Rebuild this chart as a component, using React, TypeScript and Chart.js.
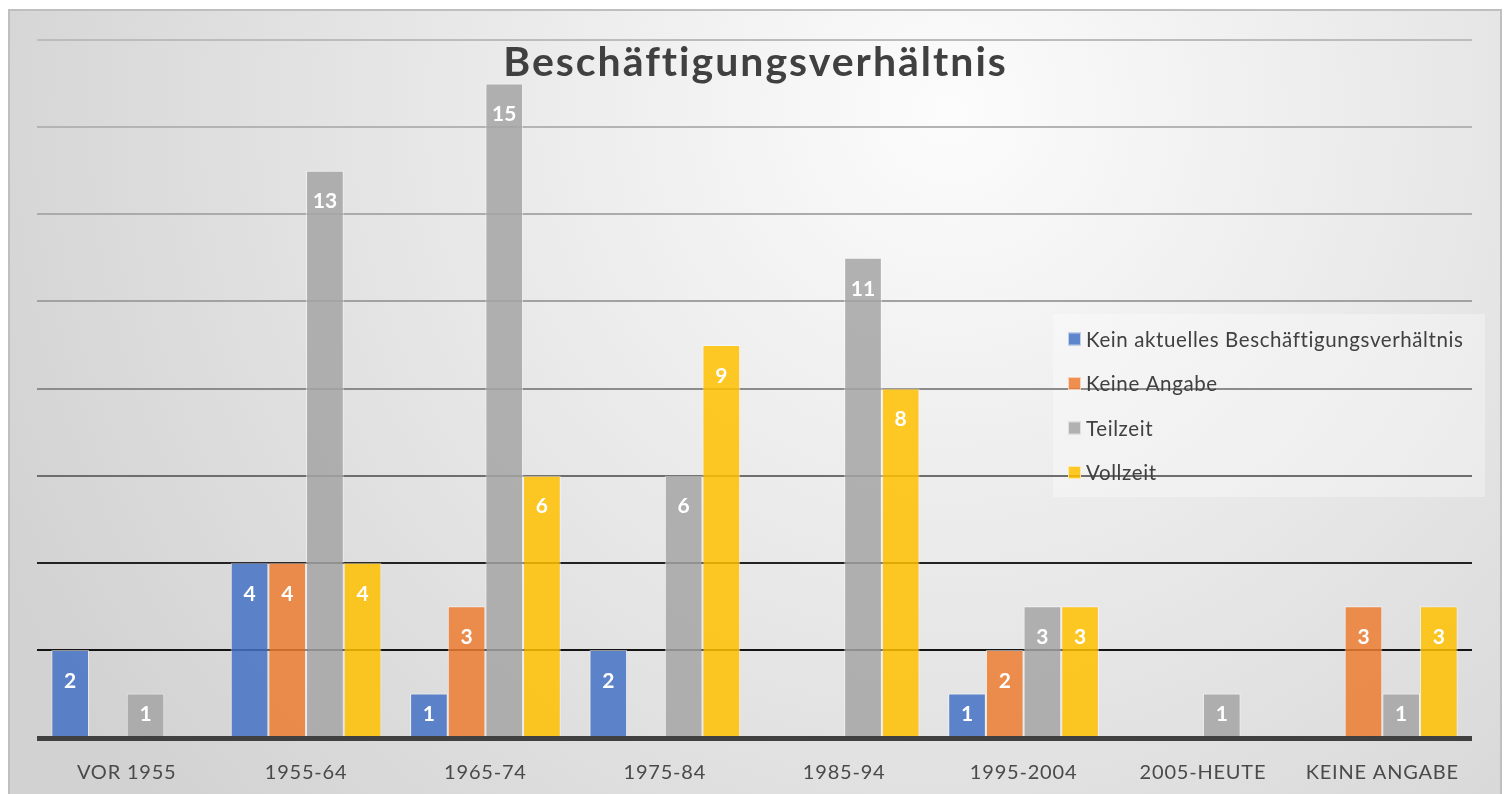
import { useEffect, useRef } from "react";
import { Chart, registerables } from "chart.js";

Chart.register(...registerables);

const categories = ["VOR 1955", "1955-64", "1965-74", "1975-84", "1985-94", "1995-2004", "2005-HEUTE", "KEINE ANGABE"];
const seriesNames = ["Kein aktuelles Beschäftigungsverhältnis", "Keine Angabe", "Teilzeit", "Vollzeit"];
const keinAktuelles = [2, 4, 1, 2, 0, 1, 0, 0];
const keineAngabe = [0, 4, 3, 0, 0, 2, 0, 3];
const teilzeit = [1, 13, 15, 6, 11, 3, 1, 1];
const vollzeit = [0, 4, 6, 9, 8, 3, 0, 3];
const seriesColors = ["#4472C4", "#ED7D31", "#A5A5A5", "#FFC000"];
const yMax = 16;
const yStep = 2;
const gridColorByValue: Record<number, string> = {
  2: "#141414",
  4: "#222222",
  6: "#6e6e6e",
  8: "#8c8c8c",
  10: "#a2a2a2",
  12: "#ababab",
  14: "#b4b4b4",
  16: "#bcbcbc",
};

const FONT = "Lato, 'Noto Sans', sans-serif";

function withAlpha(hex: string, a: number) {
  const n = parseInt(hex.slice(1), 16);
  return `rgba(${(n >> 16) & 255},${(n >> 8) & 255},${n & 255},${a})`;
}

const decorPlugin = {
  id: "decor",
  beforeDraw(chart: any) {
    const { ctx, width, height } = chart;
    ctx.letterSpacing = "0.8px";
    ctx.save();
    ctx.fillStyle = "#ffffff";
    ctx.fillRect(0, 0, width, height);
    const g = ctx.createRadialGradient(950, 110, 0, 950, 110, 1050);
    g.addColorStop(0, "#fcfcfc");
    g.addColorStop(1, "#d2d2d2");
    ctx.fillStyle = g;
    ctx.fillRect(9, 10, width - 17, height);
    ctx.strokeStyle = "#bfbfbf";
    ctx.lineWidth = 2;
    ctx.strokeRect(9, 10, width - 17, height + 10);
    // legend box
    ctx.fillStyle = "rgba(255,255,255,0.32)";
    ctx.fillRect(1053, 314, 432, 183);
    ctx.restore();
  },
  afterDatasetsDraw(chart: any) {
    const { ctx, chartArea } = chart;
    const y0 = chart.scales.y.getPixelForValue(0);
    ctx.save();
    ctx.strokeStyle = "#404040";
    ctx.lineWidth = 5;
    ctx.beginPath();
    ctx.moveTo(chartArea.left, y0 + 1.5);
    ctx.lineTo(chartArea.right, y0 + 1.5);
    ctx.stroke();

    // data labels
    ctx.letterSpacing = "0px";
    ctx.fillStyle = "#ffffff";
    ctx.font = `bold 21px ${FONT}`;
    ctx.textAlign = "center";
    ctx.textBaseline = "middle";
    chart.data.datasets.forEach((ds: any, di: number) => {
      const meta = chart.getDatasetMeta(di);
      meta.data.forEach((bar: any, i: number) => {
        const v = ds.data[i];
        if (!v) return;
        const top = bar.y;
        const bottom = bar.base;
        const cy = Math.min(top + 31, (top + bottom) / 2);
        ctx.fillText(String(v), bar.x, cy);
      });
    });

    // title
    ctx.fillStyle = "#404040";
    ctx.font = `bold 41px ${FONT}`;
    ctx.letterSpacing = "2px";
    ctx.textBaseline = "alphabetic";
    ctx.fillText("Beschäftigungsverhältnis", chart.width / 2 + 1, 76);

    // legend
    ctx.textAlign = "left";
    ctx.font = `20.5px ${FONT}`;
    ctx.letterSpacing = "0.6px";
    seriesNames.forEach((name, i) => {
      const cy = 339 + i * 44.5;
      ctx.fillStyle = withAlpha(seriesColors[i], 0.85);
      ctx.fillRect(1068, cy - 6.5, 13, 13);
      ctx.strokeStyle = "rgba(255,255,255,0.6)";
      ctx.lineWidth = 1;
      ctx.strokeRect(1068.5, cy - 6, 12, 12);
      ctx.fillStyle = "#404040";
      ctx.textBaseline = "middle";
      ctx.fillText(name, 1086, cy + 1);
    });
    ctx.restore();
  },
};

export default function App() {
  const ref = useRef<HTMLCanvasElement | null>(null);
  useEffect(() => {
    if (!ref.current) return;
    const seriesData = [keinAktuelles, keineAngabe, teilzeit, vollzeit];
    const chart = new Chart(ref.current, {
      type: "bar",
      data: {
        labels: categories,
        datasets: seriesNames.map((name, i) => ({
          label: name,
          data: seriesData[i],
          backgroundColor: withAlpha(seriesColors[i], 0.85),
          borderColor: "rgba(255,255,255,0.55)",
          borderWidth: 1,
          categoryPercentage: 0.84,
          barPercentage: 1,
        })),
      },
      options: {
        animation: false,
        responsive: false,
        maintainAspectRatio: false,
        layout: { padding: { left: 37, right: 37, top: 40, bottom: 0 } },
        plugins: {
          legend: { display: false },
          title: { display: false },
          tooltip: { enabled: false },
        },
        scales: {
          x: {
            grid: { display: false },
            border: { display: false },
            afterFit: (scale: any) => {
              scale.height = 57;
            },
            ticks: {
              color: "#4a4a4a",
              font: { family: FONT, size: 20 },
              padding: 16,
              maxRotation: 0,
              autoSkip: false,
            },
          },
          y: {
            min: 0,
            max: yMax,
            ticks: { display: false, stepSize: yStep },
            border: { display: false },
            grid: {
              drawTicks: false,
              lineWidth: 2,
              color: (c: any) => gridColorByValue[c.tick?.value] ?? "rgba(0,0,0,0)",
            },
          },
        },
      },
      plugins: [decorPlugin],
    });
    return () => chart.destroy();
  }, []);
  return (
    <div style={{ position: "fixed", left: 0, top: 0, width: 1509, height: 794 }}>
      <canvas ref={ref} width={1509} height={794} style={{ width: 1509, height: 794, display: "block" }} />
    </div>
  );
}
